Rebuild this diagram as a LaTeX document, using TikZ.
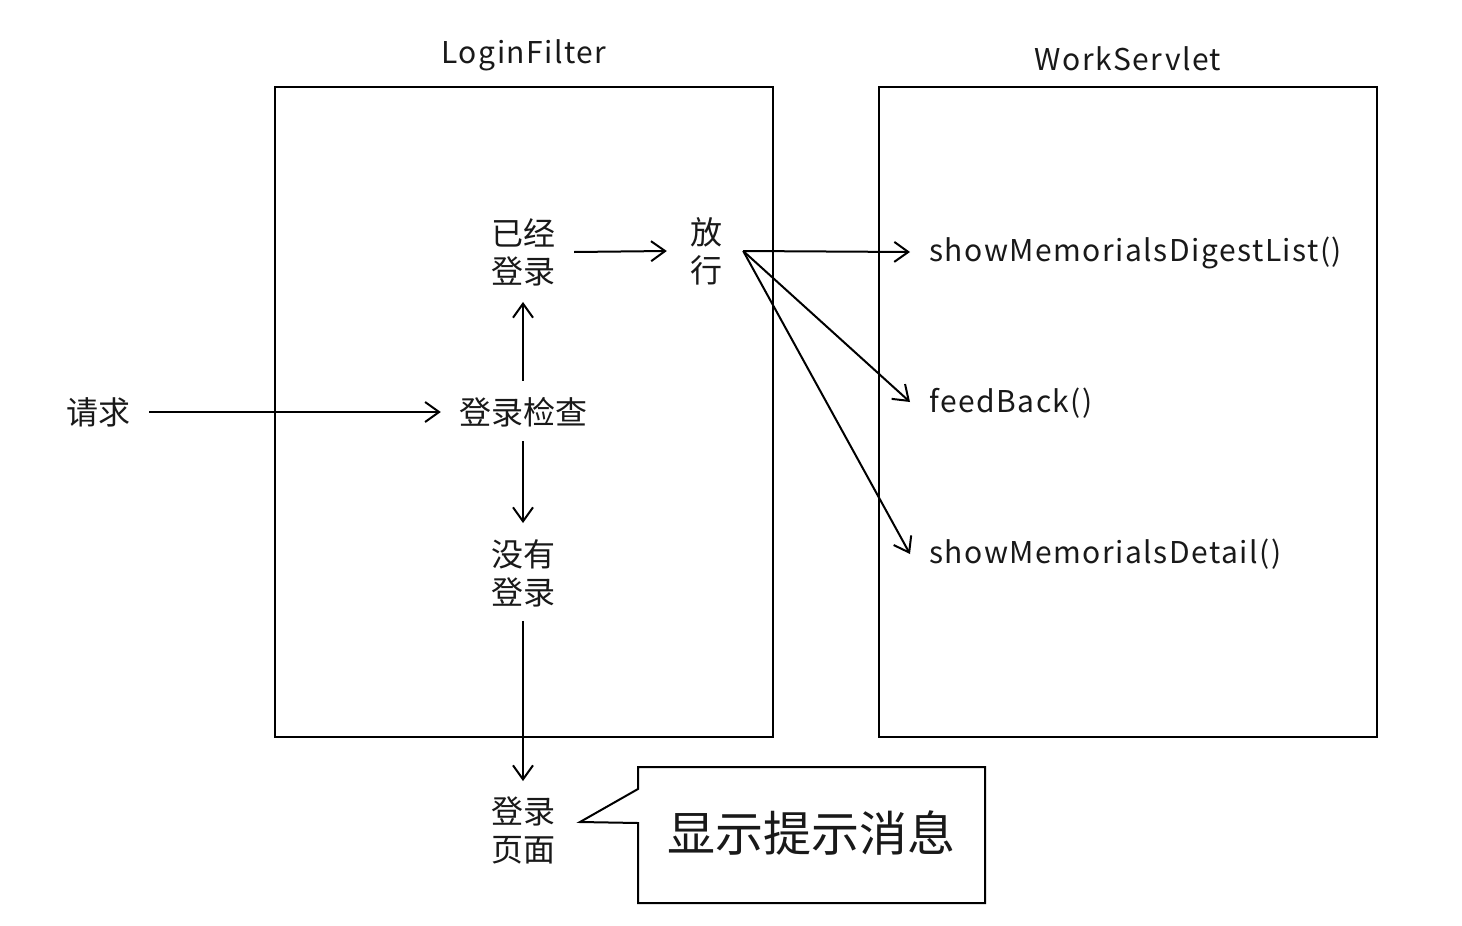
\documentclass[tikz,border=0pt]{standalone}
\usepackage{fontspec}
\setmainfont{Noto Sans CJK SC}
\newfontfamily\latinfont[LetterSpace=5]{Noto Sans CJK SC}
\usetikzlibrary{arrows.meta}
\begin{document}
\begin{tikzpicture}[x=1pt,y=-1pt,
  lbl/.style={font=\fontsize{32}{38}\selectfont, align=center, inner sep=0pt, text=black!90},
  lat/.style={lbl, font=\latinfont\fontsize{30}{38}\selectfont},
  frame/.style={draw, line width=2pt},
  arr/.style={line width=2pt, -{Straight Barb[length=14pt,width=20pt,line width=2pt]}},
]
\useasboundingbox (0,0) rectangle (1462,926);
\fill[white] (0,0) rectangle (1462,926);
% boxes
\draw[frame] (275,87) rectangle (773,737);
\draw[frame] (879,87) rectangle (1377,737);
\node[lat] (t1) at (524,55) {LoginFilter};
\node[lat] (t2) at (1128,59) {WorkServlet};
% text nodes
\node[lbl] (req) at (98,412) {请求};
\node[lbl] (check) at (523,412) {登录检查};
\node[lbl] (yes) at (523,252) {已经\\登录};
\node[lbl] (pass) at (706,251) {放\\行};
\node[lbl] (no) at (523,573) {没有\\登录};
\node[lbl] (page) at (523,830) {登录\\页面};
\node[lat, anchor=west] (m1) at (929,253) {showMemorialsDigestList()};
\node[lat, anchor=west] (m2) at (929,403) {feedBack()};
\node[lat, anchor=west] (m3) at (929,554) {showMemorialsDetail()};
% arrows
\draw[arr] ([xshift=19pt]req.east) -- ([xshift=-18pt]check.west);
\draw[arr] ([yshift=16pt]check.north) -- ([yshift=-16pt]yes.south);
\draw[arr] ([yshift=-14pt]check.south) -- ([yshift=16pt]no.north);
\draw[arr] ([xshift=19pt]yes.east) -- ([xshift=-23pt]pass.west);
\draw[arr] ([yshift=-14pt]no.south) -- ([yshift=15pt]page.north);
\coordinate (po) at ([xshift=21pt]pass.east);
\draw[arr] (po) -- ([xshift=-19pt,yshift=1pt]m1.west);
\draw[arr] (po) -- ([xshift=-19pt,yshift=1pt]m2.west);
\draw[arr] (po) -- ([xshift=-19pt]m3.west);
% callout
\draw[frame, line join=miter] (638,767) -- (985,767) -- (985,903) -- (638,903) -- (638,823) -- (580,822) -- (638,789) -- cycle;
\node[lbl, font=\fontsize{48}{56}\selectfont] (msg) at (811,833) {显示提示消息};
\end{tikzpicture}
\end{document}
